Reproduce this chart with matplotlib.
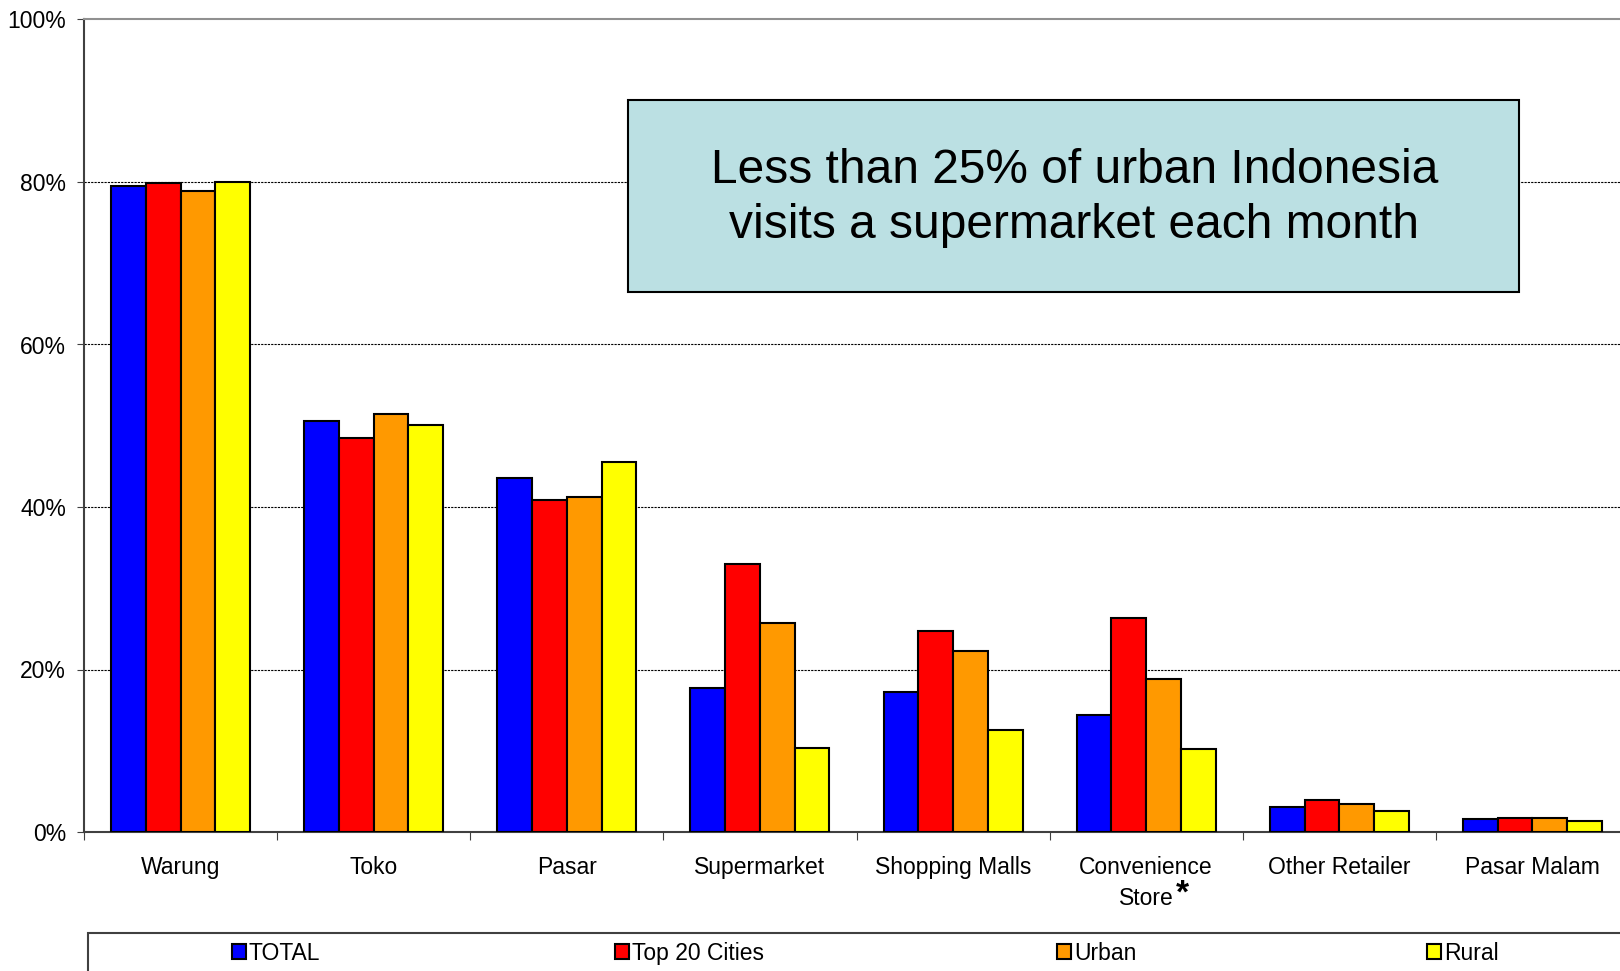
import matplotlib.pyplot as plt
import numpy as np
from matplotlib.patches import Rectangle

plt.rcParams["font.family"] = ["Liberation Sans", "DejaVu Sans"]

categories = ["Warung", "Toko", "Pasar", "Supermarket", "Shopping Malls",
              "Convenience\nStore", "Other Retailer", "Pasar Malam"]
series_names = ["TOTAL", "Top 20 Cities", "Urban", "Rural"]
total = [79.5, 50.6, 43.6, 17.7, 17.2, 14.4, 3.1, 1.6]
top20 = [79.9, 48.5, 40.8, 33.0, 24.7, 26.3, 4.0, 1.7]
urban = [78.9, 51.4, 41.2, 25.7, 22.3, 18.8, 3.5, 1.7]
rural = [80.0, 50.1, 45.5, 10.3, 12.5, 10.2, 2.6, 1.4]
colors = ["#0000FF", "#FF0000", "#FF9900", "#FFFF00"]
yticks = [0, 20, 40, 60, 80, 100]
callout = "Less than 25% of urban Indonesia\nvisits a supermarket each month"

fig = plt.figure(figsize=(16.2, 9.71), dpi=100)
ax = fig.add_axes([84 / 1620, 139 / 971, 1545 / 1620, 812.5 / 971])

x = np.arange(len(categories))
width = 0.18
for i, (vals, color) in enumerate(zip([total, top20, urban, rural], colors)):
    ax.bar(x + (i - 1.5) * width, vals, width, color=color,
           edgecolor="black", linewidth=1.5, zorder=3)

ax.set_xlim(-0.5, len(categories) - 0.5)
ax.set_ylim(0, 100)
ax.set_yticks(yticks)
ax.set_yticklabels([f"{v}%" for v in yticks], fontsize=16.5)
for v in yticks[1:-1]:
    ax.axhline(v, color="black", linestyle=(0, (2, 1)), linewidth=0.8, zorder=1)

# category separators as major ticks, names as minor tick labels
ax.set_xticks(np.arange(len(categories) + 1) - 0.5)
ax.set_xticklabels([])
ax.set_xticks(x, minor=True)
ax.set_xticklabels(categories, minor=True, fontsize=16.5)
for lbl in ax.get_xticklabels(minor=True):
    lbl.set_linespacing(1.45)
ax.tick_params(axis="x", which="major", length=6, color="#404040")
ax.tick_params(axis="x", which="minor", length=0, pad=17)
ax.tick_params(axis="y", length=5, color="#404040", pad=8)

for side in ["left", "bottom"]:
    ax.spines[side].set_color("#404040")
    ax.spines[side].set_linewidth(1.5)
ax.spines["right"].set_visible(False)
ax.spines["top"].set_color("#909090")
ax.spines["top"].set_linewidth(1.5)

ax.annotate("*", xy=(5, 0), xycoords=("data", "axes fraction"),
            xytext=(26, -45), textcoords="offset points",
            fontsize=24, fontweight="bold", ha="center", va="center")

# callout box
ax.add_patch(Rectangle((0.352, 0.665), 0.577, 0.236, transform=ax.transAxes,
                       facecolor="#BBE0E3", edgecolor="black", linewidth=1.5, zorder=4))
ax.text(0.641, 0.78, callout, transform=ax.transAxes, ha="center", va="center",
        fontsize=34.5, linespacing=1.3, zorder=5)

# legend frame running off the bottom/right edge
fig.patches.append(Rectangle((88 / 1620, -0.05), 1.0, 0.05 + 38 / 971,
                             transform=fig.transFigure, facecolor="white",
                             edgecolor="#404040", linewidth=1.5))
legend_x = [232, 615, 1057, 1427]
for name, color, lx in zip(series_names, colors, legend_x):
    handle = Rectangle((0, 0), 1, 1, facecolor=color, edgecolor="black", linewidth=1.5)
    fig.legend([handle], [name], loc="center left",
               bbox_to_anchor=(lx / 1620, 18 / 971), frameon=False,
               fontsize=16.5, handlelength=0.62, handleheight=0.62,
               handletextpad=0.12, borderpad=0, borderaxespad=0)

fig.savefig("out.png", dpi=100)
